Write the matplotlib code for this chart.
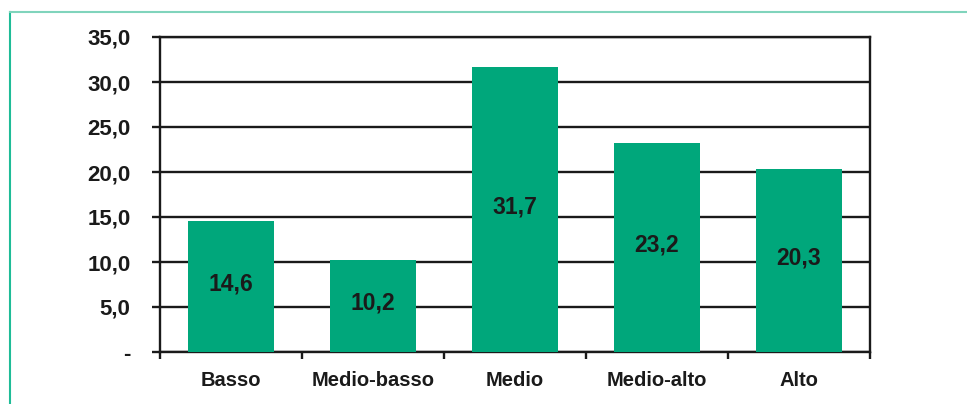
import matplotlib.pyplot as plt
from matplotlib.lines import Line2D
import numpy as np

categories = ["Basso", "Medio-basso", "Medio", "Medio-alto", "Alto"]
values = [14.6, 10.2, 31.7, 23.2, 20.3]
y_ticks = [0, 5, 10, 15, 20, 25, 30, 35]
y_tick_labels = ["-", "5,0", "10,0", "15,0", "20,0", "25,0", "30,0", "35,0"]

plt.rcParams['font.family'] = ['Liberation Sans', 'DejaVu Sans']
plt.rcParams['font.weight'] = 'bold'

W, H = 967, 404
fig = plt.figure(figsize=(W / 100, H / 100), dpi=100)
ax = fig.add_axes([160 / W, 1 - 352 / H, 710 / W, 315 / H])

dark = '#1a1a1a'
green = '#00a77b'
lw = 1.7

x = np.arange(len(categories))
bars = ax.bar(x, values, width=0.6, color=green, zorder=3)

for xi, v in zip(x, values):
    ax.text(xi, v / 2 + 0.3, f"{v:.1f}".replace(".", ","), ha='center', va='center',
            fontsize=16.5, fontweight='bold', color=dark, zorder=4)

ax.set_xlim(-0.5, len(categories) - 0.5)
ax.set_ylim(0, 35)
ax.set_yticks(y_ticks)
ax.set_yticklabels(y_tick_labels)
ax.set_xticks(x)
ax.set_xticklabels(categories)
ax.set_xticks(np.arange(-0.5, len(categories), 1), minor=True)

ax.yaxis.grid(True, color=dark, linewidth=lw, zorder=1)
ax.set_axisbelow(True)

for s in ['left', 'right', 'bottom', 'top']:
    ax.spines[s].set_color(dark)
    ax.spines[s].set_linewidth(lw)

ax.tick_params(axis='y', length=5.8, width=lw, color=dark, pad=15.5,
               labelsize=16, labelcolor=dark)
ax.tick_params(axis='x', which='major', length=0, pad=14,
               labelsize=14.5, labelcolor=dark)
ax.tick_params(axis='x', which='minor', length=5, width=lw, color=dark)
for lab in ax.get_xticklabels() + ax.get_yticklabels():
    lab.set_fontweight('bold')

# green frame around the chart
fig.add_artist(Line2D([10 / W, 10 / W], [0, 1 - 12 / H], color='#1fbc97',
                      linewidth=1.5, transform=fig.transFigure))
fig.add_artist(Line2D([10 / W, 1], [1 - 12 / H, 1 - 12 / H], color='#80d4bc',
                      linewidth=1.5, transform=fig.transFigure))

fig.savefig("out.png", dpi=100)
